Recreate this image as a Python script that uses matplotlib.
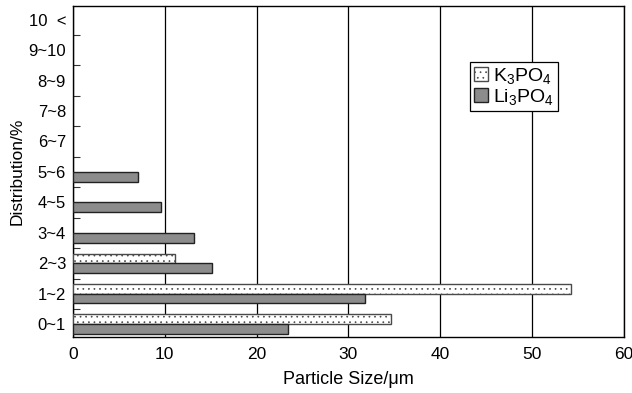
import numpy as np
import matplotlib
matplotlib.use("Agg")
import matplotlib.pyplot as plt
from matplotlib.ticker import FixedLocator

plt.rcParams['font.family'] = ['Liberation Sans', 'DejaVu Sans']
plt.rcParams['mathtext.fontset'] = 'custom'
plt.rcParams['mathtext.rm'] = 'Liberation Sans'
plt.rcParams['mathtext.default'] = 'rm'
plt.rcParams['hatch.color'] = '#a8a8a8'
plt.rcParams['hatch.linewidth'] = 0.5

categories = ["0~1", "1~2", "2~3", "3~4", "4~5", "5~6",
              "6~7", "7~8", "8~9", "9~10", "10  <"]
k3po4 = [34.6, 54.3, 11.1, 0, 0, 0, 0, 0, 0, 0, 0]
li3po4 = [23.4, 31.8, 15.1, 13.2, 9.6, 7.1, 0, 0, 0, 0, 0]

y = np.arange(len(categories))
h = 0.32

fig = plt.figure(figsize=(6.32, 3.93), dpi=100)
ax = fig.add_axes([0.1155, 0.1425, 0.8715, 0.8425])

kmask = np.array(k3po4) > 0
lmask = np.array(li3po4) > 0
ax.barh(y[kmask] + h / 2, np.array(k3po4)[kmask], height=h, color='white',
        edgecolor='#4a4a4a', linewidth=1.0, hatch='...', label=r'K$_3$PO$_4$', zorder=3)
ax.barh(y[lmask] - h / 2, np.array(li3po4)[lmask], height=h, color='#8c8c8c',
        edgecolor='#222222', linewidth=1.0, label=r'Li$_3$PO$_4$', zorder=3)

ax.set_xlim(0, 60)
ax.set_ylim(-0.42, 10.45)
ax.set_xticks(np.arange(0, 61, 10))
ax.set_yticks(y)
ax.set_yticklabels(categories)
ax.yaxis.set_minor_locator(FixedLocator(y[:-1] + 0.5))
ax.tick_params(axis='y', which='major', length=0, pad=5, labelsize=12)
ax.tick_params(axis='y', which='minor', direction='in', length=5, width=0.8, color='#333333')
ax.tick_params(axis='x', which='major', length=0, pad=7, labelsize=12.5)
ax.grid(axis='x', color='black', linewidth=0.9, zorder=1)

for s in ax.spines.values():
    s.set_linewidth(1.0)

ax.set_xlabel("Particle Size/μm", fontsize=13, labelpad=7)
ax.set_ylabel("Distribution/%", fontsize=12.5, labelpad=3)

leg = ax.legend(loc='upper left', bbox_to_anchor=(0.721, 0.83), fontsize=14,
                frameon=True, fancybox=False, edgecolor='black', framealpha=1,
                handlelength=0.7, handleheight=0.7, handletextpad=0.3,
                borderpad=0.2, labelspacing=0.05, borderaxespad=0)
leg.get_frame().set_linewidth(0.9)
leg.set_zorder(5)

fig.savefig("out.png", dpi=100)
